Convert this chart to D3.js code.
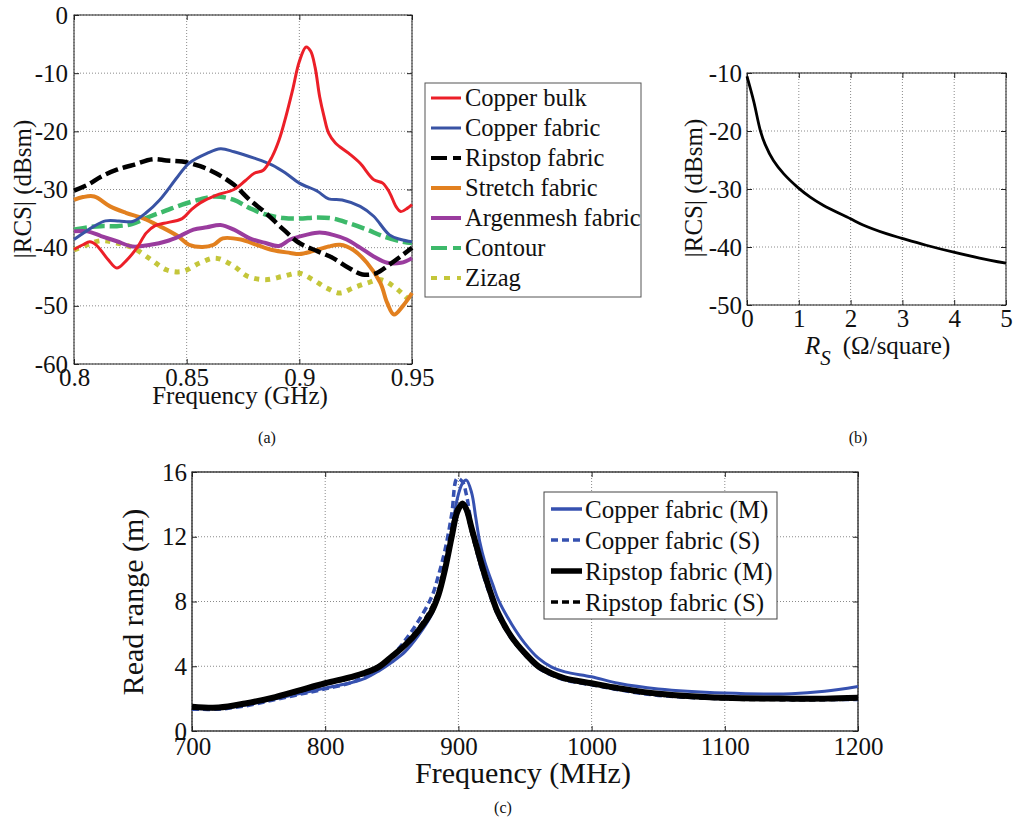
<!DOCTYPE html>
<html>
<head>
<meta charset="utf-8">
<script src="https://cdn.jsdelivr.net/npm/d3@7"></script>
<style>
  html, body { margin: 0; padding: 0; background: #fff; }
  svg { display: block; }
</style>
</head>
<body>
<svg id="chart" width="1014" height="821"></svg>
<script>
// ---------------- Panel (a): |RCS| vs frequency (GHz) ----------------
const seriesNamesA = ["Copper bulk", "Copper fabric", "Ripstop fabric", "Stretch fabric", "Argenmesh fabric", "Contour", "Zizag"];
const xTicksA = [0.8, 0.85, 0.9, 0.95];
const yTicksA = [0, -10, -20, -30, -40, -50, -60];

const copperBulk = [[0.8,-40.3],[0.804,-39.5],[0.807,-39],[0.81,-39.6],[0.815,-42],[0.819,-43.5],[0.823,-42.3],[0.828,-40],[0.832,-37.5],[0.836,-36.2],[0.84,-35.8],[0.848,-35],[0.852,-33.5],[0.856,-32.3],[0.863,-31],[0.871,-30],[0.876,-28.5],[0.88,-27.2],[0.884,-26.7],[0.888,-24.3],[0.891,-21.5],[0.894,-17.5],[0.897,-12.9],[0.9,-8],[0.903,-5.5],[0.905,-6.2],[0.907,-9],[0.909,-14],[0.911,-17.5],[0.913,-20.3],[0.916,-22],[0.922,-23.8],[0.927,-25.5],[0.933,-28.3],[0.937,-28.9],[0.94,-30.5],[0.943,-33],[0.945,-33.8],[0.948,-33.2],[0.95,-32.6]];
const copperFabric = [[0.8,-38.6],[0.809,-36.3],[0.814,-35.4],[0.82,-35.4],[0.826,-35.5],[0.832,-34],[0.838,-31.8],[0.846,-27.8],[0.851,-25.5],[0.859,-23.8],[0.865,-23],[0.871,-23.5],[0.88,-24.6],[0.888,-25.8],[0.894,-27.2],[0.9,-28.9],[0.908,-30.3],[0.913,-31.6],[0.919,-31.8],[0.927,-32.9],[0.933,-34.6],[0.94,-37.8],[0.945,-38.6],[0.95,-39]];
const ripstopFabric = [[0.8,-30.2],[0.806,-29.2],[0.812,-27.8],[0.819,-26.6],[0.826,-25.8],[0.835,-24.8],[0.841,-25],[0.848,-25.2],[0.856,-26],[0.863,-27.2],[0.871,-29.2],[0.878,-31.8],[0.885,-34],[0.893,-36.9],[0.9,-39.2],[0.908,-40.6],[0.915,-41.8],[0.922,-43.5],[0.928,-44.6],[0.934,-44.4],[0.94,-42.9],[0.945,-41.5],[0.95,-40]];
const stretchFabric = [[0.8,-31.8],[0.804,-31.3],[0.809,-31.2],[0.816,-32.9],[0.823,-34],[0.831,-35],[0.838,-36.3],[0.846,-38],[0.851,-39.5],[0.857,-39.9],[0.862,-39.5],[0.866,-38.4],[0.874,-38.6],[0.881,-39.5],[0.888,-40.4],[0.896,-40.9],[0.9,-41.1],[0.906,-40.6],[0.913,-39.8],[0.918,-39.5],[0.924,-40.4],[0.93,-42.6],[0.936,-46.1],[0.939,-49.5],[0.942,-51.5],[0.946,-50],[0.95,-47.8]];
const argenmeshFabric = [[0.8,-37.2],[0.806,-37.2],[0.812,-38],[0.819,-38.9],[0.826,-39.8],[0.834,-39.5],[0.841,-38.9],[0.847,-38],[0.853,-36.9],[0.859,-36.5],[0.865,-36.1],[0.871,-36.9],[0.878,-38.4],[0.885,-39.2],[0.891,-39.7],[0.896,-38.6],[0.903,-37.8],[0.909,-37.4],[0.915,-37.8],[0.921,-38.6],[0.927,-40],[0.933,-41.5],[0.939,-42.6],[0.945,-42.6],[0.95,-41.8]];
const contour = [[0.8,-36.9],[0.806,-36.5],[0.812,-36.3],[0.819,-36.3],[0.826,-35.9],[0.834,-34.6],[0.841,-33.6],[0.848,-32.6],[0.856,-31.7],[0.863,-31.2],[0.871,-31.8],[0.878,-33.2],[0.885,-34.3],[0.893,-34.9],[0.9,-35],[0.908,-34.8],[0.915,-35],[0.922,-35.8],[0.93,-36.9],[0.937,-38],[0.945,-38.9],[0.95,-39.2]];
const zizag = [[0.8,-40.4],[0.806,-39.5],[0.812,-38.8],[0.819,-39.2],[0.826,-40],[0.834,-42],[0.841,-43.8],[0.848,-44.1],[0.856,-42.6],[0.863,-41.8],[0.871,-43.2],[0.877,-44.9],[0.885,-45.5],[0.893,-44.9],[0.9,-44.4],[0.906,-45.5],[0.912,-46.9],[0.918,-47.8],[0.924,-46.9],[0.93,-46.1],[0.936,-45.5],[0.942,-46.7],[0.946,-48],[0.95,-49.5]];

// ---------------- Panel (b): |RCS| vs Rs ----------------
const xTicksB = [0, 1, 2, 3, 4, 5];
const yTicksB = [-10, -20, -30, -40, -50];
const rsValues = [0, 0.13, 0.26, 0.35, 0.51, 0.71, 0.99, 1.22, 1.47, 1.99, 2.24, 2.69, 2.99, 3.46, 3.99, 4.49, 5];
const rcsValues = [-10.6, -14.9, -20.0, -22.3, -25.1, -27.4, -29.8, -31.4, -32.8, -35.1, -36.2, -37.7, -38.5, -39.7, -40.9, -41.9, -42.8];

// ---------------- Panel (c): read range ----------------
const seriesNamesC = ["Copper fabric (M)", "Copper fabric (S)", "Ripstop fabric (M)", "Ripstop fabric (S)"];
const xTicksC = [700, 800, 900, 1000, 1100, 1200];
const yTicksC = [0, 4, 8, 12, 16];
const freqC =    [700, 720, 740, 760, 780, 800, 820, 830, 840, 850, 860, 870, 880, 885, 890, 895, 899, 903, 906, 910, 913, 916, 920, 926, 930, 940, 950, 960, 970, 980, 1000, 1020, 1050, 1100, 1150, 1175, 1200];
const copperM =  [1.4, 1.38, 1.6, 1.95, 2.3, 2.65, 3.0, 3.25, 3.7, 4.25, 4.9, 5.9, 7.2, 8.3, 10.0, 12.3, 14.3, 15.3, 15.5, 14.7, 13.2, 11.7, 10.4, 9.0, 8.1, 6.6, 5.4, 4.5, 3.95, 3.65, 3.35, 2.95, 2.6, 2.35, 2.3, 2.45, 2.75];
const copperS =  [1.35, 1.35, 1.55, 1.9, 2.25, 2.6, 3.0, 3.4, 3.9, 4.6, 5.6, 6.8, 8.3, 9.6, 11.2, 13.4, 15.6, 15.4, 14.6, 12.6, 11.4, 10.4, 9.3, 7.9, 7.1, 5.7, 4.7, 3.9, 3.45, 3.15, 2.85, 2.55, 2.2, 2.0, 1.95, 1.95, 1.95];
const ripstopM = [1.5, 1.45, 1.7, 2.05, 2.5, 2.95, 3.35, 3.6, 3.95, 4.6, 5.3, 6.2, 7.4, 8.4, 10.0, 12.0, 13.5, 14.05, 13.7, 12.5, 11.6, 10.7, 9.6, 8.1, 7.25, 5.8, 4.8, 4.0, 3.55, 3.25, 2.95, 2.65, 2.3, 2.05, 2.0, 2.0, 2.05];
const ripstopS = [1.45, 1.42, 1.68, 2.0, 2.45, 2.9, 3.3, 3.6, 4.0, 4.6, 5.35, 6.3, 7.6, 8.6, 10.3, 12.3, 13.7, 14.0, 13.6, 12.3, 11.4, 10.5, 9.45, 8.0, 7.15, 5.75, 4.75, 3.95, 3.5, 3.2, 2.9, 2.6, 2.25, 2.0, 1.95, 1.95, 2.0];

// ---------------------------------------------------------------------
const FONT = '"Liberation Serif"';
const svg = d3.select("#chart");

function addText(g, size) {
  return g.append("text").style("font-family", FONT).style("font-size", size).style("fill", "#111");
}

function drawFrame(g, x, y, xt, yt, opt) {
  const [x0, x1] = x.range();
  const [y0, y1] = y.range(); // y0 bottom, y1 top
  g.append("g").selectAll("line").data(xt).join("line")
    .attr("x1", d => x(d)).attr("x2", d => x(d)).attr("y1", y0).attr("y2", y1)
    .attr("stroke", "#8a8a8a").attr("stroke-width", 1).attr("stroke-dasharray", "1,2");
  g.append("g").selectAll("line").data(yt).join("line")
    .attr("x1", x0).attr("x2", x1).attr("y1", d => y(d)).attr("y2", d => y(d))
    .attr("stroke", "#8a8a8a").attr("stroke-width", 1).attr("stroke-dasharray", "1,2");
  const ax = d3.axisBottom(x).tickValues(xt).tickSize(-5).tickPadding(opt.xPad).tickFormat(opt.xFmt);
  const ay = d3.axisLeft(y).tickValues(yt).tickSize(-5).tickPadding(opt.yPad).tickFormat(opt.yFmt);
  const gx = g.append("g").attr("transform", `translate(0,${y0})`).call(ax);
  const gy = g.append("g").attr("transform", `translate(${x0},0)`).call(ay);
  const gxt = g.append("g").attr("transform", `translate(0,${y1})`).call(d3.axisTop(x).tickValues(xt).tickSize(-5).tickFormat(""));
  const gyr = g.append("g").attr("transform", `translate(${x1},0)`).call(d3.axisRight(y).tickValues(yt).tickSize(-5).tickFormat(""));
  [gx, gy, gxt, gyr].forEach(a => {
    a.attr("font-family", null).attr("font-size", null);
    a.select(".domain").remove();
    a.selectAll("line").attr("stroke", "#222");
    a.selectAll("text").style("font-family", FONT).style("font-size", opt.tickSize).style("fill", "#111");
  });
  g.append("rect").attr("x", x0).attr("y", y1).attr("width", x1 - x0).attr("height", y0 - y1)
    .attr("fill", "none").attr("stroke", "#222").attr("stroke-width", opt.boxW || 1);
}

const fmt = d => String(d);

// ---------------- Panel (a) ----------------
const xA = d3.scaleLinear().domain([0.8, 0.95]).range([74, 412]);
const yA = d3.scaleLinear().domain([-60, 0]).range([364, 15]);
const gA = svg.append("g");
drawFrame(gA, xA, yA, xTicksA, yTicksA, {xPad: 4, yPad: 6, xFmt: fmt, yFmt: fmt, tickSize: "25px"});

const stylesA = [
  {data: copperBulk, color: "#ec1f28", w: 3, dash: null},
  {data: copperFabric, color: "#3953a4", w: 3, dash: null},
  {data: ripstopFabric, color: "#000000", w: 4.5, dash: "13,5"},
  {data: stretchFabric, color: "#e2801f", w: 4, dash: null},
  {data: argenmeshFabric, color: "#9a3c9e", w: 4, dash: null},
  {data: contour, color: "#3db96a", w: 4.5, dash: "13,5"},
  {data: zizag, color: "#c4c63a", w: 5, dash: "5,6"}
];
const lineA = d3.line().x(d => xA(d[0])).y(d => yA(d[1])).curve(d3.curveCatmullRom.alpha(0.5));
const drawOrderA = [5, 6, 3, 4, 2, 1, 0];
drawOrderA.forEach(i => {
  const s = stylesA[i];
  gA.append("path").datum(s.data).attr("d", lineA).attr("fill", "none")
    .attr("stroke", s.color).attr("stroke-width", s.w)
    .attr("stroke-dasharray", s.dash).attr("stroke-linejoin", "round");
});
addText(gA, "25px").attr("x", 240).attr("y", 404).attr("text-anchor", "middle").text("Frequency (GHz)");
addText(gA, "25px").attr("transform", "translate(31,189) rotate(-90)").attr("text-anchor", "middle").text("|RCS| (dBsm)");
addText(gA, "16px").attr("x", 267).attr("y", 443).attr("text-anchor", "middle").text("(a)");

// legend (a)
const legA = svg.append("g");
legA.append("rect").attr("x", 425).attr("y", 83).attr("width", 216).attr("height", 214)
  .attr("fill", "#fff").attr("stroke", "#555").attr("stroke-width", 1);
seriesNamesA.forEach((name, i) => {
  const cy = 98 + i * 30;
  const s = stylesA[i];
  legA.append("line").attr("x1", 431).attr("x2", 461).attr("y1", cy).attr("y2", cy)
    .attr("stroke", s.color).attr("stroke-width", s.w === 3 ? 3 : 4)
    .attr("stroke-dasharray", s.dash ? (i === 6 ? "6,7" : "16,6") : null);
  addText(legA, "24.5px").attr("x", 465).attr("y", cy + 8).text(name);
});

// ---------------- Panel (b) ----------------
const xB = d3.scaleLinear().domain([0, 5]).range([747, 1006]);
const yB = d3.scaleLinear().domain([-50, -10]).range([305, 73]);
const gB = svg.append("g");
drawFrame(gB, xB, yB, xTicksB, yTicksB, {xPad: 4, yPad: 5, xFmt: fmt, yFmt: fmt, tickSize: "25px"});
gB.append("path").datum(rsValues.map((r, i) => [r, rcsValues[i]]))
  .attr("d", d3.line().x(d => xB(d[0])).y(d => yB(d[1])).curve(d3.curveCatmullRom.alpha(0.5)))
  .attr("fill", "none").attr("stroke", "#000").attr("stroke-width", 2.8);
addText(gB, "25px").attr("transform", "translate(702,188) rotate(-90)").attr("text-anchor", "middle").text("|RCS| (dBsm)");
const xlabB = addText(gB, "25px").attr("x", 805).attr("y", 354);
xlabB.append("tspan").style("font-style", "italic").text("R");
xlabB.append("tspan").style("font-style", "italic").style("font-size", "21px").attr("dy", 11).text("S");
xlabB.append("tspan").attr("dy", -11).attr("dx", 12).text("(Ω/square)");
addText(gB, "16px").attr("x", 858).attr("y", 443).attr("text-anchor", "middle").text("(b)");

// ---------------- Panel (c) ----------------
const xC = d3.scaleLinear().domain([700, 1200]).range([192, 858]);
const yC = d3.scaleLinear().domain([0, 16]).range([731, 472]);
const gC = svg.append("g");
drawFrame(gC, xC, yC, xTicksC, yTicksC, {xPad: 6, yPad: 5, xFmt: fmt, yFmt: fmt, tickSize: "25px", boxW: 1.3});
const stylesC = [
  {vals: copperM, color: "#3651b0", w: 3, dash: null},
  {vals: copperS, color: "#3651b0", w: 3.5, dash: "7,4"},
  {vals: ripstopM, color: "#000", w: 6, dash: null},
  {vals: ripstopS, color: "#000", w: 4, dash: "6,4"}
];
const lineC = d3.line().x(d => xC(d[0])).y(d => yC(d[1])).curve(d3.curveCatmullRom.alpha(0.5));
stylesC.forEach(s => {
  gC.append("path").datum(freqC.map((f, i) => [f, s.vals[i]])).attr("d", lineC)
    .attr("fill", "none").attr("stroke", s.color).attr("stroke-width", s.w)
    .attr("stroke-dasharray", s.dash).attr("stroke-linejoin", "round");
});
addText(gC, "30px").attr("x", 523).attr("y", 783).attr("text-anchor", "middle").text("Frequency (MHz)");
addText(gC, "30px").attr("transform", "translate(143,602) rotate(-90)").attr("text-anchor", "middle").text("Read range (m)");
addText(gC, "16px").attr("x", 503).attr("y", 813).attr("text-anchor", "middle").text("(c)");

// legend (c)
const legC = svg.append("g");
legC.append("rect").attr("x", 544).attr("y", 492).attr("width", 233).attr("height", 127)
  .attr("fill", "#fff").attr("stroke", "#444").attr("stroke-width", 1);
seriesNamesC.forEach((name, i) => {
  const cy = 509 + i * 31;
  const s = stylesC[i];
  legC.append("line").attr("x1", 551).attr("x2", 582).attr("y1", cy).attr("y2", cy)
    .attr("stroke", s.color).attr("stroke-width", i === 2 ? 5.5 : 3.5)
    .attr("stroke-dasharray", s.dash ? "7,4" : null);
  addText(legC, "25px").attr("x", 585).attr("y", cy + 9).text(name);
});
</script>
</body>
</html>
